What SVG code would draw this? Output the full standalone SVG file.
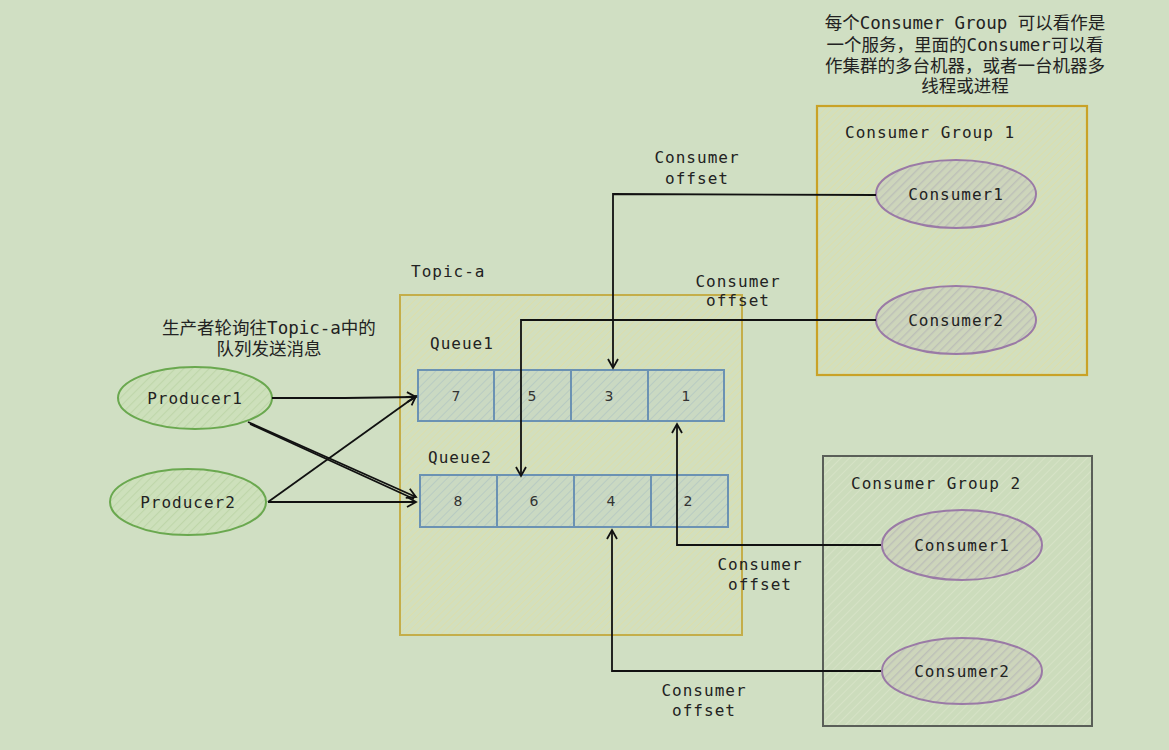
<svg xmlns="http://www.w3.org/2000/svg" width="1169" height="750" viewBox="0 0 1169 750">
<defs>
<pattern id="hY" width="5" height="5" patternUnits="userSpaceOnUse" patternTransform="rotate(45)"><rect width="5" height="5" fill="#d2dfbe"/><line x1="0" y1="0" x2="0" y2="5" stroke="#dcdeaa" stroke-width="1.8"/></pattern>
<pattern id="hG" width="6" height="6" patternUnits="userSpaceOnUse" patternTransform="rotate(45)"><rect width="6" height="6" fill="#ccdcbc"/><line x1="0" y1="0" x2="0" y2="6" stroke="#d6e2c6" stroke-width="2"/></pattern>
<pattern id="hB" width="6" height="6" patternUnits="userSpaceOnUse" patternTransform="rotate(45)"><rect width="6" height="6" fill="#cad9c2"/><line x1="0" y1="0" x2="0" y2="6" stroke="#b8cbc2" stroke-width="2"/></pattern>
<pattern id="hP" width="6" height="6" patternUnits="userSpaceOnUse" patternTransform="rotate(45)"><rect width="6" height="6" fill="#cdd5bb"/><line x1="0" y1="0" x2="0" y2="6" stroke="#bdc0b8" stroke-width="2.8"/></pattern>
<pattern id="hN" width="6" height="6" patternUnits="userSpaceOnUse" patternTransform="rotate(45)"><rect width="6" height="6" fill="#cde0bb"/><line x1="0" y1="0" x2="0" y2="6" stroke="#bfd6aa" stroke-width="2.2"/></pattern>
<marker id="arr" markerWidth="12" markerHeight="12" refX="10" refY="6" orient="auto" markerUnits="userSpaceOnUse"><path d="M1,1 L10,6 L1,11" fill="none" stroke="#111" stroke-width="1.8"/></marker>
</defs>
<style>
text{font-family:"DejaVu Sans Mono","Liberation Mono","Noto Sans CJK SC",monospace;font-size:16px;fill:#222;letter-spacing:1px}
.cjk{font-family:"DejaVu Sans Mono","Noto Sans CJK SC",sans-serif;font-size:17.5px;letter-spacing:0}
.num{font-family:"DejaVu Sans","Liberation Sans",sans-serif;font-size:14px;letter-spacing:0;fill:#333}
.conn path{fill:none;stroke:#111;stroke-width:1.8}
.prod{fill:url(#hN);stroke:#6aa84f;stroke-width:2}
.cons{fill:url(#hP);stroke:#9a7aa6;stroke-width:2}
.cell{fill:url(#hB);stroke:#6b92b3;stroke-width:2}
</style>
<rect width="1169" height="750" fill="#d0dfc3"/>

<g id="topic-a">
<rect x="400" y="295" width="342" height="340" fill="url(#hY)" stroke="#c4ae4a" stroke-width="2"/>
<text x="411" y="277">Topic-a</text>
</g>

<g id="queue1">
<text x="430" y="349">Queue1</text>
<rect class="cell" x="418" y="370" width="306" height="51"/>
<path d="M494,370V421M571,370V421M648,370V421" stroke="#6b92b3" stroke-width="2"/>
<text class="num" x="456" y="401" text-anchor="middle">7</text>
<text class="num" x="532" y="401" text-anchor="middle">5</text>
<text class="num" x="609" y="401" text-anchor="middle">3</text>
<text class="num" x="686" y="401" text-anchor="middle">1</text>
</g>

<g id="queue2">
<text x="428" y="463">Queue2</text>
<rect class="cell" x="420" y="475" width="308" height="52"/>
<path d="M497,475V527M574,475V527M651,475V527" stroke="#6b92b3" stroke-width="2"/>
<text class="num" x="458" y="506" text-anchor="middle">8</text>
<text class="num" x="534" y="506" text-anchor="middle">6</text>
<text class="num" x="611" y="506" text-anchor="middle">4</text>
<text class="num" x="688" y="506" text-anchor="middle">2</text>
</g>

<g id="producer1">
<ellipse class="prod" cx="195" cy="398" rx="77" ry="31"/>
<text x="195" y="404" text-anchor="middle">Producer1</text>
</g>
<g id="producer2">
<ellipse class="prod" cx="188" cy="502" rx="78" ry="33"/>
<text x="188" y="508" text-anchor="middle">Producer2</text>
</g>
<g id="producer-note">
<text class="cjk" x="269" y="334" text-anchor="middle">生产者轮询往Topic-a中的</text>
<text class="cjk" x="269" y="355" text-anchor="middle">队列发送消息</text>
</g>

<g id="consumer-group-1">
<rect x="817" y="106" width="270" height="269" fill="url(#hY)" stroke="#c9a227" stroke-width="2.2"/>
<text x="845" y="138">Consumer Group 1</text>
</g>
<g id="cg1-consumer1">
<ellipse class="cons" cx="956" cy="194" rx="80" ry="34"/>
<text x="956" y="200" text-anchor="middle">Consumer1</text>
</g>
<g id="cg1-consumer2">
<ellipse class="cons" cx="956" cy="320" rx="80" ry="34"/>
<text x="956" y="326" text-anchor="middle">Consumer2</text>
</g>

<g id="consumer-group-2">
<rect x="823" y="456" width="269" height="270" fill="url(#hG)" stroke="#5a5f58" stroke-width="2"/>
<text x="851" y="489">Consumer Group 2</text>
</g>
<g id="cg2-consumer1">
<ellipse class="cons" cx="962" cy="545" rx="80" ry="35"/>
<text x="962" y="551" text-anchor="middle">Consumer1</text>
</g>
<g id="cg2-consumer2">
<ellipse class="cons" cx="962" cy="671" rx="80" ry="33"/>
<text x="962" y="677" text-anchor="middle">Consumer2</text>
</g>

<g id="group-note">
<text class="cjk" x="965" y="29" text-anchor="middle">每个Consumer Group 可以看作是</text>
<text class="cjk" x="965" y="51" text-anchor="middle">一个服务，里面的Consumer可以看</text>
<text class="cjk" x="965" y="72" text-anchor="middle">作集群的多台机器，或者一台机器多</text>
<text class="cjk" x="965" y="92" text-anchor="middle">线程或进程</text>
</g>

<g class="conn" id="connectors">
<path d="M272,398 L345,398 L416,397" marker-end="url(#arr)"/>
<path d="M248,422 L416,497" marker-end="url(#arr)"/>
<path d="M250,424 L414,499"/>
<path d="M268,502 L416,396" marker-end="url(#arr)"/>
<path d="M268,502 L416,502" marker-end="url(#arr)"/>
<path d="M876,195 L613,194 L613,368" marker-end="url(#arr)"/>
<path d="M876,320 L521,320 L521,476" marker-end="url(#arr)"/>
<path d="M881,545 L677,545 L677,424" marker-end="url(#arr)"/>
<path d="M881,671 L612,671 L612,530" marker-end="url(#arr)"/>
</g>
<g id="connector-labels">
<text x="697" y="163" text-anchor="middle">Consumer</text>
<text x="697" y="184" text-anchor="middle">offset</text>
<text x="738" y="287" text-anchor="middle">Consumer</text>
<text x="738" y="306" text-anchor="middle">offset</text>
<text x="760" y="570" text-anchor="middle">Consumer</text>
<text x="760" y="590" text-anchor="middle">offset</text>
<text x="704" y="696" text-anchor="middle">Consumer</text>
<text x="704" y="716" text-anchor="middle">offset</text>
</g>
</svg>
